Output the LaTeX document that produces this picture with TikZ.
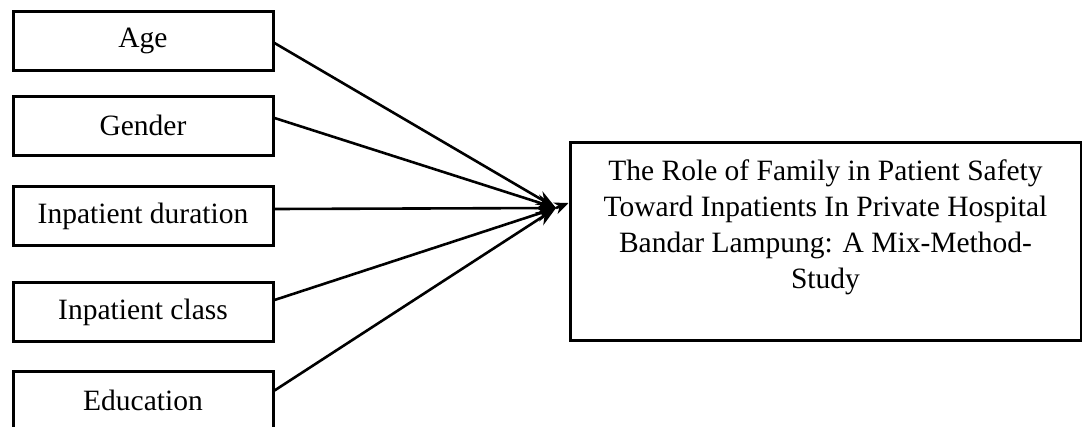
\documentclass[tikz,border=0pt]{standalone}
\usepackage{fontspec}
\setmainfont{Liberation Serif}
\usetikzlibrary{arrows.meta}
\begin{document}
\begin{tikzpicture}[x=1pt,y=-1pt,
  factor/.style={draw, line width=3pt, minimum width=260pt, minimum height=59pt,
    inner sep=0pt, font=\fontsize{29.5}{36}\selectfont},
  link/.style={line width=2.6pt, -{Stealth[length=20pt,width=15pt]}}]
\useasboundingbox (0,0) rectangle (1082,426);

% factor boxes
\node[factor] (age)  at (143,40.5) {Age};
\node[factor] (gen)  at (143,125.5) {Gender};
\node[factor] (dur)  at (143,216) {Inpatient duration};
\node[factor] (cls)  at (143,312) {Inpatient class};
\node[factor] (edu)  at (143,400.5) {Education};

% outcome box and its title
\node[draw, line width=3pt, minimum width=511pt, minimum height=198pt, inner sep=0pt]
  (goal) at (825.5,241) {};
\node[anchor=north, align=center, inner sep=0pt, font=\fontsize{29.5}{36}\selectfont]
  (goaltext) at (825.5,160)
  {The Role of Family in Patient Safety\\
   Toward Inpatients In Private Hospital\\
   Bandar Lampung: A Mix-Method-\\
   Study};

% meeting point of the arrows
\coordinate (hub) at (556,208);

\draw[link] ([yshift=-2.5pt]age.east) -- (hub);
\draw[link] ([yshift=7.5pt]gen.east) -- (hub);
\draw[link] ([yshift=7pt]dur.east) -- (hub);
\draw[link] ([yshift=12pt]cls.east) -- (hub);
\draw[link] ([yshift=10pt]edu.east) -- (hub);
\draw[line width=2.6pt, -{Stealth[length=14pt,width=12pt]}] (hub) -- ([yshift=38pt]goal.west);
\end{tikzpicture}
\end{document}
